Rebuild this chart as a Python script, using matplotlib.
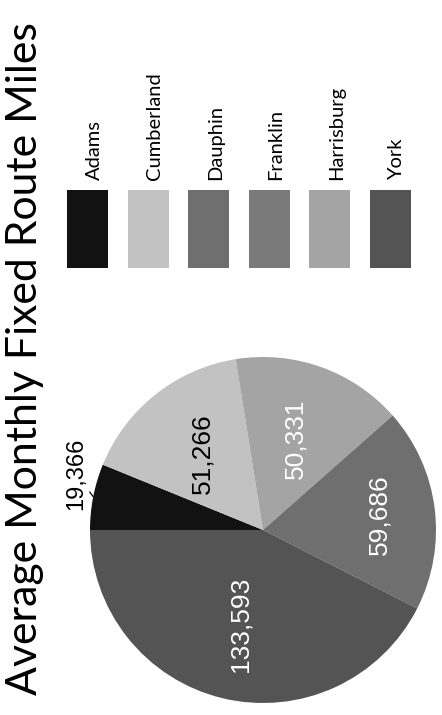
import numpy as np
import matplotlib
matplotlib.use('Agg')
import matplotlib.pyplot as plt
from matplotlib.patches import Rectangle

title = 'Average Monthly Fixed Route Miles'

# legend order
regions = ['Adams', 'Cumberland', 'Dauphin', 'Franklin', 'Harrisburg', 'York']
miles = [19366, 51266, 59686, 0, 50331, 133593]
colors = ['#121212', '#c2c2c2', '#6f6f6f', '#7a7a7a', '#a4a4a4', '#545454']
text_colors = ['black', 'black', 'white', 'white', 'white', 'white']

# order the slices are drawn in (clockwise)
pie_order = [0, 1, 4, 3, 2, 5]

W, H = 442, 715
fig = plt.figure(figsize=(W / 100, H / 100), dpi=100)

num_font = ['Liberation Sans', 'DejaVu Sans']
txt_font = ['Lato', 'DejaVu Sans']

# title, written sideways
fig.text(25 / W, 1 - 359 / H, title, rotation=90, ha='center', va='center',
         fontsize=30.8, family=txt_font, color='black')

# pie
cx, cy, r = 263, 530, 173
ax = fig.add_axes([(cx - r) / W, (H - cy - r) / H, 2 * r / W, 2 * r / H])
vals = [miles[i] for i in pie_order]
cols = [colors[i] for i in pie_order]
wedges, _ = ax.pie(vals, colors=cols, startangle=180, counterclock=False,
                   radius=1, wedgeprops=dict(linewidth=0))
ax.set_xlim(-1, 1)
ax.set_ylim(-1, 1)
ax.set_aspect('equal')
ax.axis('off')

for w, i in zip(wedges, pie_order):
    v = miles[i]
    if v == 0:
        continue
    mid = np.deg2rad((w.theta1 + w.theta2) / 2)
    lab = f'{v:,}'
    if v / sum(miles) < 0.08:
        # small slice: label outside with a short leader line
        ax.annotate(lab, xy=(1.0 * np.cos(mid), 1.0 * np.sin(mid)),
                    xytext=(1.13 * np.cos(mid - 0.1), 1.13 * np.sin(mid - 0.1)),
                    rotation=90, ha='center', va='center', fontsize=17,
                    family=num_font, color='black',
                    arrowprops=dict(arrowstyle='-', color='black', lw=0.9,
                                    shrinkA=8, shrinkB=0),
                    annotation_clip=False)
    else:
        d = 0.68 if i == 2 else 0.56
        ax.text(d * np.cos(mid), d * np.sin(mid), lab, rotation=90,
                ha='center', va='center', fontsize=19, family=num_font,
                color=text_colors[i])

# legend row across the top
lax = fig.add_axes([0, 1 - 280 / H, 1, 280 / H])
lax.set_xlim(0, W)
lax.set_ylim(280, 0)
lax.axis('off')
for k, (name, c) in enumerate(zip(regions, colors)):
    x0 = 67 + k * 60.6
    lax.add_patch(Rectangle((x0, 190), 41, 78, facecolor=c, edgecolor='none'))
    lax.text(x0 + 20.5 + 12, 180, name, rotation=90, rotation_mode='anchor',
             ha='left', va='baseline', fontsize=14.5, family=txt_font,
             color='black')

fig.savefig('out.png', dpi=100, facecolor='white')
